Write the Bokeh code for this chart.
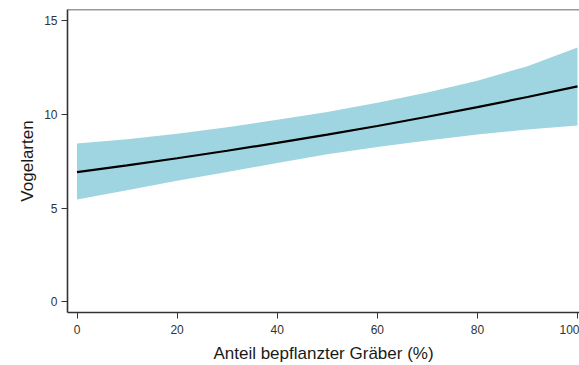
from bokeh.plotting import figure
from bokeh.models import Range1d, FixedTicker, Span, ColumnDataSource
from bokeh.embed import file_html
from bokeh.resources import INLINE

# data
x_vals = [0, 10, 20, 30, 40, 50, 60, 70, 80, 90, 100]
mean_vals = [6.91, 7.27, 7.65, 8.05, 8.47, 8.91, 9.37, 9.86, 10.37, 10.91, 11.48]
upper_vals = [8.43, 8.66, 8.95, 9.30, 9.70, 10.12, 10.60, 11.15, 11.78, 12.55, 13.55]
lower_vals = [5.46, 5.95, 6.45, 6.92, 7.40, 7.87, 8.25, 8.60, 8.92, 9.18, 9.40]
x_ticks = [0, 20, 40, 60, 80, 100]
y_ticks = [0, 5, 10, 15]

src = ColumnDataSource(dict(x=x_vals, m=mean_vals, lo=lower_vals, hi=upper_vals))

FONT = "Liberation Sans"
y_end = 15.57

p = figure(width=579, height=365, output_backend="svg", toolbar_location=None,
           x_range=Range1d(-1.9, 100.4), y_range=Range1d(-0.56, y_end),
           min_border_left=67, min_border_right=0, min_border_top=9, min_border_bottom=0)
p.outline_line_color = None
p.grid.visible = False
p.background_fill_color = "white"

p.varea(x="x", y1="lo", y2="hi", source=src, fill_color="#9fd5e0")
p.line(x="x", y="m", source=src, line_color="black", line_width=2.2)

p.add_layout(Span(location=y_end, dimension="width", line_color="#333333", line_width=1.6))

for ax in (p.xaxis[0], p.yaxis[0]):
    ax.axis_line_color = "#333333"
    ax.axis_line_width = 1.6
    ax.major_tick_line_color = "#333333"
    ax.major_tick_line_width = 1
    ax.major_tick_out = 6
    ax.major_tick_in = 0
    ax.minor_tick_line_color = None
    ax.major_label_text_font = FONT
    ax.major_label_text_font_size = "12px"
    ax.major_label_text_color = "#333333"
    ax.axis_label_text_font = FONT
    ax.axis_label_text_font_size = "17px"
    ax.axis_label_text_font_style = "normal"
    ax.axis_label_text_color = "#1a1a1a"

p.xaxis.ticker = FixedTicker(ticks=x_ticks)
p.yaxis.ticker = FixedTicker(ticks=y_ticks)
p.xaxis.axis_label = "Anteil bepflanzter Gräber (%)"
p.yaxis.axis_label = "Vogelarten"
p.xaxis.major_label_standoff = 6
p.yaxis.major_label_standoff = 4
p.xaxis.axis_label_standoff = 7
p.yaxis.axis_label_standoff = 4

open("out.html", "w").write(file_html(p, INLINE))
